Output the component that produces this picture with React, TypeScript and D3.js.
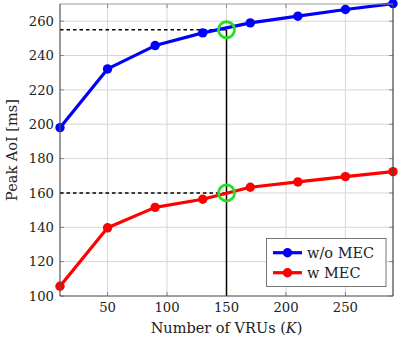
import React from "react";
import * as d3 from "d3";

const vrus = [10, 50, 90, 130, 170, 210, 250, 290];
const woMEC = [198, 232.2, 245.8, 253.2, 259, 262.9, 266.8, 270.2];
const wMEC = [105.7, 139.7, 151.6, 156.3, 163.3, 166.4, 169.5, 172.4];
const xTicks = [50, 100, 150, 200, 250];
const yTicks = [100, 120, 140, 160, 180, 200, 220, 240, 260];
const highlightK = 150;
const highlightVals = [255, 160];
const seriesNames = ["w/o MEC", "w MEC"];
const seriesColors = ["#0000ff", "#ff0000"];

export default function App() {
  const W = 399, H = 341;
  const left = 60, right = 393, top = 4, bottom = 296;
  const x = d3.scaleLinear().domain([10, 290]).range([left, right]);
  const y = d3.scaleLinear().domain([100, 270]).range([bottom, top]);
  const line = d3.line<number>().x((_, i) => x(vrus[i])).y((d) => y(d));
  const font = "'DejaVu Serif', serif";
  const series = [woMEC, wMEC];
  const fs = 13.2;
  const lfs = 14.5;
  return (
    <svg width={W} height={H} style={{ position: "absolute", left: 0, top: 0 }}>
      <rect width={W} height={H} fill="#fff" />
      {/* grid */}
      {xTicks.map((t) => (
        <line key={"gx" + t} x1={x(t)} x2={x(t)} y1={top} y2={bottom} stroke="#d6d6d6" strokeWidth={1} />
      ))}
      {yTicks.map((t) => (
        <line key={"gy" + t} x1={left} x2={right} y1={y(t)} y2={y(t)} stroke="#d6d6d6" strokeWidth={1} />
      ))}
      {/* ticks */}
      {xTicks.map((t) => (
        <g key={"tx" + t}>
          <line x1={x(t)} x2={x(t)} y1={bottom} y2={bottom - 4} stroke="#888" />
          <line x1={x(t)} x2={x(t)} y1={top} y2={top + 4} stroke="#888" />
          <text x={x(t)} y={bottom + 16} textAnchor="middle" fontFamily={font} fontSize={fs} fill="#222">
            {t}
          </text>
        </g>
      ))}
      {yTicks.map((t) => (
        <g key={"ty" + t}>
          <line x1={left} x2={left + 4} y1={y(t)} y2={y(t)} stroke="#888" />
          <line x1={right} x2={right - 4} y1={y(t)} y2={y(t)} stroke="#888" />
          <text x={left - 6} y={y(t) + 4.7} textAnchor="end" fontFamily={font} fontSize={fs} fill="#222">
            {t}
          </text>
        </g>
      ))}
      {/* reference lines */}
      {highlightVals.map((v) => (
        <line key={"d" + v} x1={left} x2={x(highlightK)} y1={y(v)} y2={y(v)} stroke="#000" strokeWidth={1.4} strokeDasharray="3.5,3" />
      ))}
      <line x1={x(highlightK)} x2={x(highlightK)} y1={y(highlightVals[0])} y2={bottom} stroke="#000" strokeWidth={1.5} />
      {/* series */}
      {series.map((s, si) => (
        <g key={"s" + si}>
          <path d={line(s) || ""} fill="none" stroke={seriesColors[si]} strokeWidth={3.2} strokeLinejoin="round" />
          {s.map((v, i) => (
            <circle key={i} cx={x(vrus[i])} cy={y(v)} r={4.7} fill={seriesColors[si]} />
          ))}
        </g>
      ))}
      {/* highlights */}
      {highlightVals.map((v) => (
        <circle key={"h" + v} cx={x(highlightK)} cy={y(v)} r={8} fill="none" stroke="#22e01e" strokeWidth={2.8} />
      ))}
      {/* frame */}
      <line x1={left} x2={right} y1={top} y2={top} stroke="#999" strokeWidth={1.2} />
      <line x1={left} x2={left} y1={top} y2={bottom} stroke="#555" strokeWidth={1.2} />
      <line x1={right} x2={right} y1={top} y2={bottom} stroke="#444" strokeWidth={1.2} />
      <line x1={left} x2={right} y1={bottom} y2={bottom} stroke="#555" strokeWidth={1.2} />
      {/* legend */}
      <rect x={266.5} y={238.5} width={119.5} height={48} fill="#fff" stroke="#777" strokeWidth={1} />
      {seriesNames.map((n, i) => (
        <g key={"l" + i}>
          <line x1={273} x2={302} y1={252.7 + i * 20} y2={252.7 + i * 20} stroke={seriesColors[i]} strokeWidth={3.2} />
          <circle cx={287.5} cy={252.7 + i * 20} r={4.7} fill={seriesColors[i]} />
          <text x={307} y={257.6 + i * 20} fontFamily={font} fontSize={lfs} fill="#222">
            {n}
          </text>
        </g>
      ))}
      {/* axis labels */}
      <text x={(left + right) / 2} y={333} textAnchor="middle" fontFamily={font} fontSize={lfs} fill="#222">
        Number of VRUs (<tspan fontStyle="italic">K</tspan>)
      </text>
      <text transform={`translate(17,${(top + bottom) / 2}) rotate(-90)`} textAnchor="middle" fontFamily={font} fontSize={lfs} fill="#222">
        Peak AoI [ms]
      </text>
    </svg>
  );
}
